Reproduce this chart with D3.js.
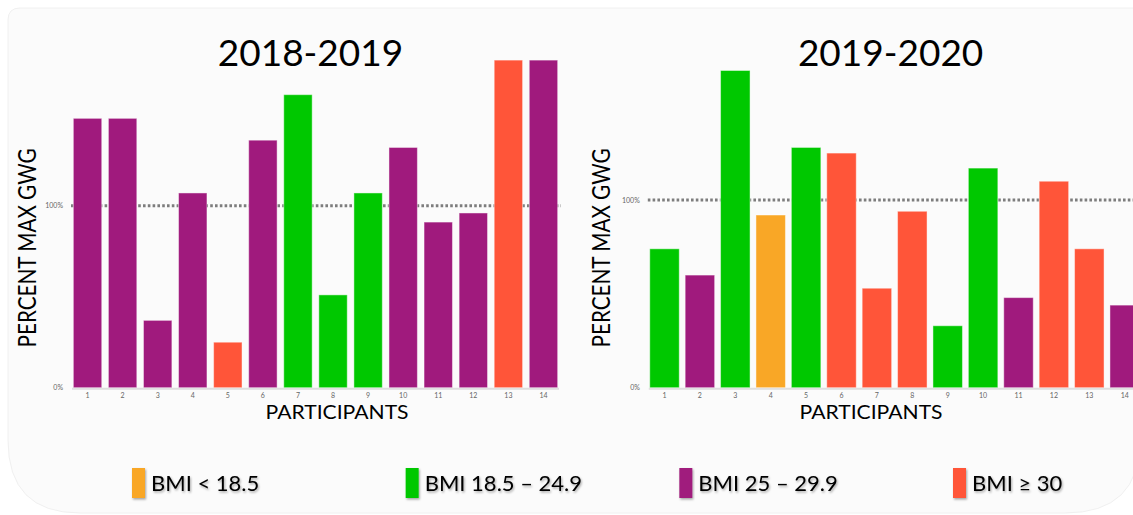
<!DOCTYPE html>
<html>
<head>
<meta charset="utf-8">
<script src="https://cdn.jsdelivr.net/npm/d3@7"></script>
<style>
  body { margin: 0; background: #fff; }
  text { font-family: Lato, "Open Sans", sans-serif; }
</style>
</head>
<body>
<script>
// Data (percent of max gestational weight gain).
const participants = [1, 2, 3, 4, 5, 6, 7, 8, 9, 10, 11, 12, 13, 14];
const gwg2018 = [148, 148, 37, 107, 25, 136, 161, 51, 107, 132, 91, 96, 180, 180];
const bmi2018 = ['ow', 'ow', 'ow', 'ow', 'ob', 'ow', 'n', 'n', 'n', 'ow', 'ow', 'ow', 'ob', 'ow'];
const gwg2019 = [74, 60, 169, 92, 128, 125, 53, 94, 33, 117, 48, 110, 74, 44];
const bmi2019 = ['n', 'ow', 'n', 'u', 'n', 'ob', 'ob', 'ob', 'n', 'n', 'ow', 'ob', 'ob', 'ow'];
const yTicks = [0, 100];

const bmiKeys = ['u', 'n', 'ow', 'ob'];
const bmiLabels = ['BMI < 18.5', 'BMI 18.5 \u2013 24.9', 'BMI 25 \u2013 29.9', 'BMI \u2265 30'];
const bmiColors = ['#F9A726', '#00C800', '#A01A7D', '#FF5539'];

const width = 1133;
const height = 515;
const color = d3.scaleOrdinal().domain(bmiKeys).range(bmiColors);

const svg = d3.select('body')
  .append('svg')
  .attr('width', width)
  .attr('height', height);

const defs = svg.append('defs');
const shadow = defs.append('filter').attr('id', 'shadow')
  .attr('x', '-20%').attr('y', '-20%').attr('width', '140%').attr('height', '160%');
shadow.append('feDropShadow')
  .attr('dx', 1).attr('dy', 1.5).attr('stdDeviation', 0.8)
  .attr('flood-color', '#000').attr('flood-opacity', 0.35);

// background card with big rounded bottom corners
svg.append('path')
  .attr('d', 'M8,20 Q8,8 20,8 L1140,8 L1140,440 Q1140,513 1065,513 L80,513 Q8,513 8,440 Z')
  .attr('fill', '#fbfbfb')
  .attr('stroke', '#f0f0f0');

const charts = [
  { title: '2018-2019', values: gwg2018, bmi: bmi2018, x0: 70, x1: 561, y100: 205.7, pad: 0.19, yTitleX: 27, xTitleX: 337 },
  { title: '2019-2020', values: gwg2019, bmi: bmi2019, x0: 646.8, x1: 1142.4, y100: 200, pad: 0.167, yTitleX: 601, xTitleX: 871 }
];

const baseY = 387.7;

charts.forEach(c => {
  const x = d3.scaleBand()
    .domain(participants)
    .range([c.x0, c.x1])
    .paddingInner(c.pad)
    .paddingOuter(c.pad / 2);

  const y = d3.scaleLinear()
    .domain([0, 100])
    .range([baseY, c.y100]);

  const g = svg.append('g');

  // 100% reference line, behind the bars
  g.append('line')
    .attr('x1', c.x0 + 1).attr('x2', c.x1)
    .attr('y1', y(100)).attr('y2', y(100))
    .attr('stroke', '#7d7d7d')
    .attr('stroke-width', 3)
    .attr('stroke-dasharray', '2.6 2.2');

  g.append('line')
    .attr('x1', c.x0 + 2).attr('x2', c.x1 - 2)
    .attr('y1', baseY + 1).attr('y2', baseY + 1)
    .attr('stroke', '#dedede')
    .attr('stroke-width', 2);

  g.selectAll('rect')
    .data(participants)
    .enter()
    .append('rect')
    .attr('x', d => x(d))
    .attr('width', x.bandwidth())
    .attr('y', (d, i) => y(c.values[i]))
    .attr('height', (d, i) => baseY - y(c.values[i]))
    .attr('fill', (d, i) => color(c.bmi[i]))
    .attr('stroke', '#ffffff')
    .attr('stroke-opacity', 0.45)
    .attr('stroke-width', 1);

  const yAxis = g.append('g')
    .attr('transform', `translate(${c.x0},0)`)
    .call(d3.axisLeft(y).tickValues(yTicks).tickSize(0).tickPadding(7).tickFormat(d => d + '%'));
  yAxis.select('.domain').remove();
  yAxis.selectAll('text').attr('fill', '#666').style('font-size', '7px').style('font-family', 'Lato, sans-serif');

  const xAxis = g.append('g')
    .attr('transform', `translate(0,${baseY})`)
    .call(d3.axisBottom(x).tickSize(0).tickPadding(5));
  xAxis.select('.domain').remove();
  xAxis.selectAll('text').attr('fill', '#666').style('font-size', '7px').style('font-family', 'Lato, sans-serif');

  g.append('text')
    .attr('x', (c.x0 + c.x1) / 2 - (c.x1 > width ? 4 : 5))
    .attr('y', 66)
    .attr('text-anchor', 'middle')
    .style('font-size', '37px')
    .attr('fill', '#000')
    .text(c.title);

  g.append('text')
    .attr('transform', `translate(${c.yTitleX + 9},248) rotate(-90)`)
    .attr('text-anchor', 'middle')
    .attr('textLength', 199)
    .attr('lengthAdjust', 'spacingAndGlyphs')
    .style('font-size', '25px')
    .attr('fill', '#000')
    .text('PERCENT MAX GWG');

  g.append('text')
    .attr('x', c.xTitleX)
    .attr('y', 419)
    .attr('text-anchor', 'middle')
    .attr('textLength', 143)
    .attr('lengthAdjust', 'spacingAndGlyphs')
    .style('font-size', '20px')
    .attr('fill', '#000')
    .text('PARTICIPANTS');
});

// legend
const lx = d3.scalePoint().domain(bmiKeys).range([132, 953]);
const legend = svg.append('g');
const item = legend.selectAll('g')
  .data(bmiKeys)
  .enter()
  .append('g')
  .attr('transform', d => `translate(${lx(d)},468)`);

item.append('rect')
  .attr('width', 13)
  .attr('height', 30)
  .attr('fill', d => color(d))
  .attr('filter', 'url(#shadow)');

item.append('text')
  .attr('x', 19)
  .attr('y', 23)
  .style('font-size', '22px')
  .attr('fill', '#000')
  .attr('filter', 'url(#shadow)')
  .text((d, i) => bmiLabels[i]);
</script>
</body>
</html>
